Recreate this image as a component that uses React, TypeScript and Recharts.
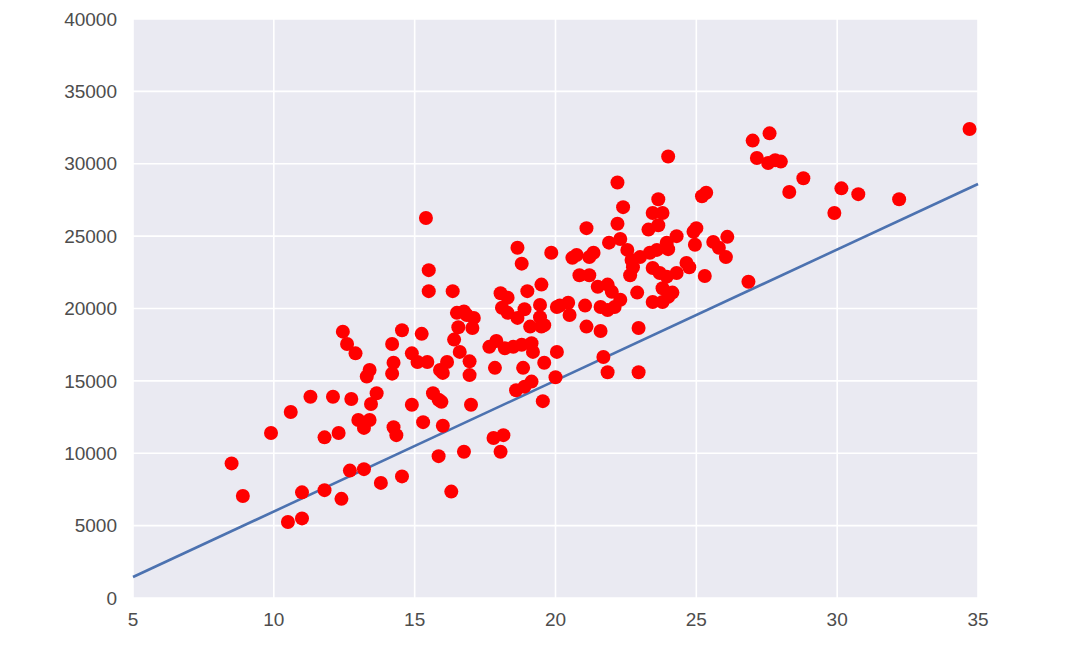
import { CartesianGrid, Scatter, ScatterChart, XAxis, YAxis } from "recharts";

const pointX = [
  8.5, 8.9, 9.9, 10.6, 10.5, 11.0, 11.0, 11.3, 11.8, 11.8, 12.1, 12.3, 12.4, 12.45, 12.6, 12.75, 12.7, 12.9,
  13.2, 13.0, 13.2, 13.4, 13.3, 13.4, 13.45, 13.65, 13.8, 14.2, 14.55, 14.2, 14.25, 14.9, 14.9, 14.25, 14.35,
  14.55, 15.4, 15.5, 15.5, 16.35, 16.5, 16.75, 16.85, 17.1, 16.55, 17.05, 16.4, 16.6, 16.95, 16.95, 15.25,
  15.1, 15.45, 16.15, 15.9, 16.0, 15.65, 15.85, 15.95, 15.3, 16.0, 17.0, 15.85, 16.75, 16.3, 17.65, 17.9,
  18.2, 18.5, 18.8, 19.15, 19.2, 17.85, 18.85, 19.6, 20.05, 20.0, 18.6, 18.9, 19.15, 19.55, 17.8, 18.15,
  18.05, 18.65, 18.8, 19.85, 18.05, 18.3, 18.1, 18.3, 18.65, 19.0, 19.5, 18.9, 19.45, 19.45, 19.1, 19.5,
  20.05, 24.0, 22.2, 22.4, 25.2, 25.35, 23.65, 23.45, 23.8, 23.3, 23.65, 21.1, 22.2, 21.9, 22.3, 22.55,
  20.6, 20.75, 21.2, 21.35, 22.7, 23.0, 23.35, 23.6, 23.95, 24.3, 24.9, 25.0, 24.95, 25.6, 24.0, 20.85,
  21.2, 22.65, 22.75, 23.45, 23.7, 23.95, 24.3, 24.65, 24.75, 25.3, 21.5, 21.85, 22.0, 22.9, 23.8, 24.15,
  24.0, 23.45, 23.8, 20.15, 20.45, 20.5, 21.05, 21.6, 21.85, 22.1, 22.3, 19.6, 21.1, 21.6, 22.95, 21.7,
  21.85, 22.95, 34.7, 27.0, 27.6, 27.15, 27.55, 27.8, 28.0, 28.8, 28.3, 30.15, 30.75, 32.2, 29.9, 26.1,
  25.8, 26.05, 26.85,
];

const pointY = [
  9300, 7050, 11400, 12850, 5250, 5500, 7300, 13900, 7450, 11100, 13900, 11400, 6850, 18400, 17550, 13750,
  8800, 16900, 8900, 12300, 11750, 12300, 15300, 15750, 13400, 14150, 7950, 17550, 18500, 15500, 16250,
  16900, 13350, 11800, 11250, 8400, 26250, 22650, 21200, 21200, 19700, 19800, 19550, 19350, 18700, 18650,
  17850, 17000, 16350, 15400, 18250, 16300, 16300, 16300, 15750, 15550, 14150, 13700, 13550, 12150, 11900,
  13350, 9800, 10100, 7350, 17350, 17750, 17250, 17350, 17500, 17600, 17000, 15900, 15900, 16250, 17000,
  15250, 14350, 14600, 14950, 13600, 11050, 11250, 10100, 24200, 23100, 23850, 21050, 20750, 20050, 19700,
  19350, 21200, 21650, 19950, 20250, 19400, 18750, 18750, 20100, 30500, 28700, 27000, 27750, 28000, 27550,
  26600, 26600, 25450, 25750, 25550, 25850, 24550, 24800, 24050, 23500, 23700, 23550, 23850, 23350, 23550,
  23850, 24050, 24550, 25000, 25300, 25550, 24400, 24600, 24100, 22300, 22300, 22300, 22850, 22800, 22450,
  22200, 22450, 23150, 22850, 22250, 21500, 21650, 21150, 21100, 21400, 21100, 20800, 20450, 20450, 20200,
  20400, 19550, 20200, 20100, 19900, 20100, 20600, 18850, 18750, 18450, 18650, 16650, 15600, 15600, 32400,
  31600, 32100, 30400, 30050, 30250, 30150, 29000, 28050, 28300, 27900, 27550, 26600, 24950, 24200, 23550,
  21850,
];

// fitted line end points
const lineX = [5, 35];
const lineY = [1450, 28600];

const xTicks = [5, 10, 15, 20, 25, 30, 35];
const yTicks = [0, 5000, 10000, 15000, 20000, 25000, 30000, 35000, 40000];

const points = pointX.map((x, i) => ({ x, y: pointY[i] }));
const fitLine = lineX.map((x, i) => ({ x, y: lineY[i] }));

const tickStyle = { fill: "#4d4d4d", fontSize: 19, fontFamily: "Liberation Sans, Arial, sans-serif" };

const RedDot = (props: any) => <circle cx={props.cx} cy={props.cy} r={7} fill="#ff0000" />;
const NoDot = () => <g />;

export default function App() {
  return (
    <div style={{ position: "absolute", left: 0, top: 0, width: 1080, height: 645, background: "#fff" }}>
      <ScatterChart width={1080} height={645} margin={{ top: 19, right: 102, left: 0, bottom: 17 }}>
        <CartesianGrid fill="#eaeaf2" stroke="#ffffff" strokeWidth={1.6} />
        <XAxis
          axisLine={false}
          dataKey="x"
          domain={[5, 35]}
          height={30}
          tick={tickStyle}
          tickLine={false}
          tickMargin={15}
          tickSize={0}
          ticks={xTicks}
          type="number"
        />
        <YAxis
          axisLine={false}
          dataKey="y"
          domain={[0, 40000]}
          tick={tickStyle}
          tickLine={false}
          tickMargin={16}
          tickSize={0}
          ticks={yTicks}
          type="number"
          width={133}
        />
        <Scatter data={fitLine} isAnimationActive={false} line={{ stroke: "#4c72b0", strokeWidth: 2.6 }} shape={NoDot} />
        <Scatter data={points} isAnimationActive={false} shape={RedDot} />
      </ScatterChart>
    </div>
  );
}
